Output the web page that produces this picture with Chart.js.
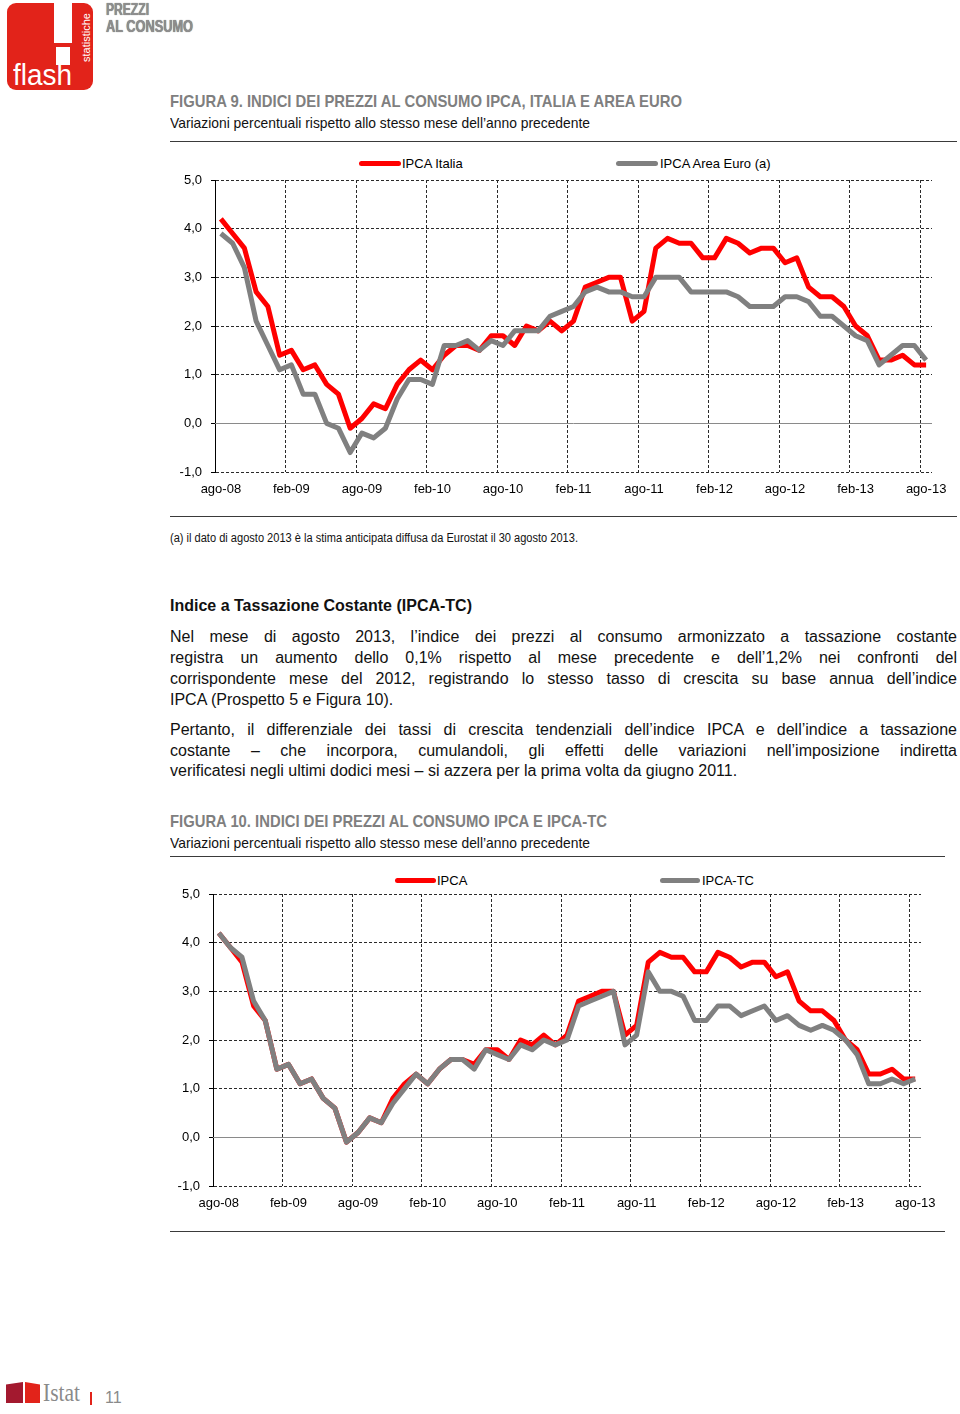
<!DOCTYPE html>
<html>
<head>
<meta charset="utf-8">
<script src="https://cdn.jsdelivr.net/npm/chart.js@4.4.0/dist/chart.umd.min.js"></script>
<style>
  body { margin: 0; width: 960px; height: 1414px; background: #fff; position: relative; overflow: hidden;
         font-family: "Liberation Sans", Arial, sans-serif; }
  .abs { position: absolute; white-space: nowrap; transform-origin: 0 50%; }
  .narrow { font-family: "Liberation Sans Narrow", "Arial Narrow", "Liberation Sans", Arial, sans-serif; }
  .rule { position: absolute; height: 0; border-top: 1.5px solid #3a3a3a; }
  .fig { color: #7f7f7f; font-size: 17px; line-height: 20px; font-weight: bold; }
  .sub { color: #111; font-size: 15px; line-height: 20px; }
  .par { position: absolute; left: 170px; width: 787px; font-size: 16px; line-height: 20px; color: #111;
         text-align: justify; text-align-last: justify; white-space: nowrap; }
  .par.last { text-align-last: left; }
  .legline { position: absolute; height: 5px; border-radius: 3px; }
  .legtxt { font-size: 13px; line-height: 16px; color: #000; }
  .box { position: absolute; }
</style>
</head>
<body>

<!-- header logo -->
<div class="abs" style="left:7px;top:3px;width:86px;height:87px;background:#e2231a;border-radius:9px;"></div>
<div class="abs" style="left:54px;top:3px;width:18px;height:40px;background:#fff;"></div>
<div class="abs" style="left:56px;top:47px;width:14px;height:18px;background:#fff;"></div>
<div class="abs" data-w="59" style="left:13px;top:60px;font-size:29px;line-height:30px;color:#fff;font-weight:300;">flash</div>
<div class="abs" style="left:80px;top:62px;font-size:11px;line-height:12px;color:#fff;transform:rotate(-90deg);transform-origin:0 0;">statistiche</div>
<div class="abs narrow" data-w="43" style="left:106px;top:1px;font-size:17px;line-height:17px;font-weight:bold;color:#8e8e8e;text-shadow:0 0 1px #555;">PREZZI</div>
<div class="abs narrow" data-w="87" style="left:106px;top:18px;font-size:17px;line-height:17px;font-weight:bold;color:#8e8e8e;text-shadow:0 0 1px #555;">AL CONSUMO</div>

<!-- figura 9 -->
<div class="abs narrow fig" data-w="512" style="left:170px;top:92px;">FIGURA 9. INDICI DEI PREZZI AL CONSUMO IPCA, ITALIA E AREA EURO</div>
<div class="abs narrow sub" data-w="420" style="left:170px;top:113px;">Variazioni percentuali rispetto allo stesso mese dell’anno precedente</div>
<div class="rule" style="left:170px;top:141px;width:787px;"></div>

<div class="legline" style="left:359px;top:161px;width:42px;background:#ff0000;"></div>
<div class="abs narrow legtxt" style="left:402px;top:156px;">IPCA Italia</div>
<div class="legline" style="left:616px;top:161px;width:42px;background:#808080;"></div>
<div class="abs narrow legtxt" style="left:660px;top:156px;">IPCA Area Euro (a)</div>

<div class="box" style="left:160px;top:150px;"><canvas id="chart9" width="800" height="352"></canvas></div>

<div class="rule" style="left:170px;top:516px;width:787px;"></div>
<div class="abs narrow" data-w="408" style="left:170px;top:530px;font-size:12.5px;line-height:16px;color:#111;">(a) il dato di agosto 2013 è la stima anticipata diffusa da Eurostat il 30 agosto 2013.</div>

<!-- testo -->
<div class="abs" style="left:170px;top:596px;font-size:16px;line-height:20px;font-weight:bold;color:#111;">Indice a Tassazione Costante (IPCA-TC)</div>
<div class="par" style="top:627px;">Nel mese di agosto 2013, l’indice dei prezzi al consumo armonizzato a tassazione costante</div>
<div class="par" style="top:648px;">registra un aumento dello 0,1% rispetto al mese precedente e dell’1,2% nei confronti del</div>
<div class="par" style="top:669px;">corrispondente mese del 2012, registrando lo stesso tasso di crescita su base annua dell’indice</div>
<div class="par last" style="top:690px;">IPCA (Prospetto 5 e Figura 10).</div>
<div class="par" style="top:720px;">Pertanto, il differenziale dei tassi di crescita tendenziali dell’indice IPCA e dell’indice a tassazione</div>
<div class="par" style="top:741px;">costante – che incorpora, cumulandoli, gli effetti delle variazioni nell’imposizione indiretta</div>
<div class="par last" style="top:761px;">verificatesi negli ultimi dodici mesi – si azzera per la prima volta da giugno 2011.</div>

<!-- figura 10 -->
<div class="abs narrow fig" data-w="437" style="left:170px;top:812px;">FIGURA 10. INDICI DEI PREZZI AL CONSUMO IPCA E IPCA-TC</div>
<div class="abs narrow sub" data-w="420" style="left:170px;top:833px;">Variazioni percentuali rispetto allo stesso mese dell’anno precedente</div>
<div class="rule" style="left:170px;top:856px;width:775px;"></div>

<div class="legline" style="left:395px;top:878px;width:41px;background:#ff0000;"></div>
<div class="abs narrow legtxt" style="left:437px;top:873px;">IPCA</div>
<div class="legline" style="left:660px;top:878px;width:40px;background:#808080;"></div>
<div class="abs narrow legtxt" style="left:702px;top:873px;">IPCA-TC</div>

<div class="box" style="left:158px;top:864px;"><canvas id="chart10" width="802" height="352"></canvas></div>

<div class="rule" style="left:170px;top:1231px;width:775px;"></div>

<!-- footer -->
<div class="abs" style="left:6px;top:1382px;width:17px;height:21px;background:#a3192f;clip-path:polygon(0 12%,100% 0,100% 100%,0 100%);"></div>
<div class="abs" style="left:25px;top:1382px;width:15px;height:21px;background:#e2231a;clip-path:polygon(0 0,100% 12%,100% 100%,0 100%);"></div>
<div class="abs" data-w="37" style="left:43px;top:1380px;font-family:'Liberation Serif',serif;font-size:25px;line-height:26px;color:#8a8a8a;">Istat</div>
<div class="abs" style="left:90px;top:1392px;width:2px;height:13px;background:#e2231a;"></div>
<div class="abs" style="left:105px;top:1389px;font-size:16px;line-height:18px;color:#8a8a8a;">11</div>

<script>
// ---- data -------------------------------------------------------------
const months = [
  'ago-08', 'set-08', 'ott-08', 'nov-08', 'dic-08',
  'gen-09', 'feb-09', 'mar-09', 'apr-09', 'mag-09', 'giu-09', 'lug-09', 'ago-09', 'set-09', 'ott-09', 'nov-09', 'dic-09',
  'gen-10', 'feb-10', 'mar-10', 'apr-10', 'mag-10', 'giu-10', 'lug-10', 'ago-10', 'set-10', 'ott-10', 'nov-10', 'dic-10',
  'gen-11', 'feb-11', 'mar-11', 'apr-11', 'mag-11', 'giu-11', 'lug-11', 'ago-11', 'set-11', 'ott-11', 'nov-11', 'dic-11',
  'gen-12', 'feb-12', 'mar-12', 'apr-12', 'mag-12', 'giu-12', 'lug-12', 'ago-12', 'set-12', 'ott-12', 'nov-12', 'dic-12',
  'gen-13', 'feb-13', 'mar-13', 'apr-13', 'mag-13', 'giu-13', 'lug-13', 'ago-13'
];

// IPCA Italia (also "IPCA" in figura 10)
const ipcaItalia = [
  4.2, 3.9, 3.6, 2.7, 2.4,
  1.4, 1.5, 1.1, 1.2, 0.8, 0.6, -0.1, 0.1, 0.4, 0.3, 0.8, 1.1,
  1.3, 1.1, 1.4, 1.6, 1.6, 1.5, 1.8, 1.8, 1.6, 2.0, 1.9, 2.1,
  1.9, 2.1, 2.8, 2.9, 3.0, 3.0, 2.1, 2.3, 3.6, 3.8, 3.7, 3.7,
  3.4, 3.4, 3.8, 3.7, 3.5, 3.6, 3.6, 3.3, 3.4, 2.8, 2.6, 2.6,
  2.4, 2.0, 1.8, 1.3, 1.3, 1.4, 1.2, 1.2
];

const ipcaEuro = [
  3.9, 3.7, 3.2, 2.1, 1.6,
  1.1, 1.2, 0.6, 0.6, 0.0, -0.1, -0.6, -0.2, -0.3, -0.1, 0.5, 0.9,
  0.9, 0.8, 1.6, 1.6, 1.7, 1.5, 1.7, 1.6, 1.9, 1.9, 1.9, 2.2,
  2.3, 2.4, 2.7, 2.8, 2.7, 2.7, 2.6, 2.6, 3.0, 3.0, 3.0, 2.7,
  2.7, 2.7, 2.7, 2.6, 2.4, 2.4, 2.4, 2.6, 2.6, 2.5, 2.2, 2.2,
  2.0, 1.8, 1.7, 1.2, 1.4, 1.6, 1.6, 1.3
];

const ipcaTC = [
  4.2, 3.9, 3.7, 2.8, 2.4,
  1.4, 1.5, 1.1, 1.2, 0.8, 0.6, -0.1, 0.1, 0.4, 0.3, 0.7, 1.0,
  1.3, 1.1, 1.4, 1.6, 1.6, 1.4, 1.8, 1.7, 1.6, 1.9, 1.8, 2.0,
  1.9, 2.0, 2.7, 2.8, 2.9, 3.0, 1.9, 2.1, 3.4, 3.0, 3.0, 2.9,
  2.4, 2.4, 2.7, 2.7, 2.5, 2.6, 2.7, 2.4, 2.5, 2.3, 2.2, 2.3,
  2.2, 2.0, 1.7, 1.1, 1.1, 1.2, 1.1, 1.2
];

const yMin = -1;
const yMax = 5;
const yStep = 1;
const labelEvery = 6;

// ---- style ------------------------------------------------------------
const RED = '#ff0000';
const GREY = '#808080';
const GRID = '#2a2a2a';
const FONT = '"Liberation Sans Narrow", "Arial Narrow", "Liberation Sans", Arial, sans-serif';

// solid grey line at 0, the other horizontals are dashed
const zeroLine = {
  id: 'zeroLine',
  beforeDatasetsDraw(chart) {
    const { ctx, chartArea, scales } = chart;
    const py = Math.round(scales.y.getPixelForValue(0)) + 0.5;
    ctx.save();
    ctx.strokeStyle = '#8a8a8a';
    ctx.lineWidth = 1;
    ctx.beginPath();
    ctx.moveTo(chartArea.left, py);
    ctx.lineTo(chartArea.right, py);
    ctx.stroke();
    ctx.restore();
  }
};

function makeLineChart(canvasId, series, padRight) {
  const ctx = document.getElementById(canvasId)?.getContext('2d');
  if (!ctx) return;
  return new Chart(ctx, {
    type: 'line',
    data: {
      labels: months,
      datasets: series.map(s => ({
        label: s.label,
        data: s.data,
        borderColor: s.color,
        backgroundColor: s.color,
        borderWidth: 5,
        pointRadius: 0,
        tension: 0,
        fill: false,
        order: s.order,
        borderJoinStyle: 'round',
      })),
    },
    options: {
      responsive: false,
      animation: false,
      layout: { padding: { top: 30, right: padRight, left: 0, bottom: 0 } },
      plugins: { legend: { display: false }, tooltip: { enabled: false } },
      scales: {
        x: {
          type: 'category',
          offset: true,
          grid: {
            offset: true,
            drawTicks: false,
            lineWidth: 1,
            color: c => (c.index % labelEvery === 0 && c.index < months.length) ? GRID : 'rgba(0,0,0,0)',
          },
          border: { display: false, dash: [3, 2] },
          ticks: {
            autoSkip: false, maxRotation: 0, minRotation: 0, padding: 10, color: '#000',
            font: { family: FONT, size: 13 },
            callback: (v, i) => (i % labelEvery === 0 ? months[i] : ''),
          },
          afterFit: s => { s.height = 30; },
        },
        y: {
          min: yMin,
          max: yMax,
          ticks: {
            stepSize: yStep, padding: 9, color: '#000',
            font: { family: FONT, size: 13 },
            callback: v => v.toFixed(1).replace('.', ','),
          },
          grid: {
            lineWidth: 1,
            color: c => (c.tick && c.tick.value === 0 ? 'rgba(0,0,0,0)' : GRID),
            tickLength: 4,
            tickColor: '#000',
            tickBorderDash: [],
          },
          border: { display: true, color: '#000', width: 1, dash: [3, 2] },
          afterFit: s => { s.width = 55; },
        },
      },
    },
    plugins: [zeroLine],
  });
}

// stretch text boxes to their measured width in the page
document.querySelectorAll('[data-w]').forEach(el => {
  const w = el.getBoundingClientRect().width;
  const target = +el.dataset.w;
  if (w > 0) el.style.transform = (el.style.transform || '') + ` scaleX(${target / w})`;
});

makeLineChart('chart9', [
  { label: 'IPCA Italia', data: ipcaItalia, color: RED, order: 2 },
  { label: 'IPCA Area Euro (a)', data: ipcaEuro, color: GREY, order: 1 },
], 28);

makeLineChart('chart10', [
  { label: 'IPCA', data: ipcaItalia, color: RED, order: 2 },
  { label: 'IPCA-TC', data: ipcaTC, color: GREY, order: 1 },
], 39);
</script>
</body>
</html>
